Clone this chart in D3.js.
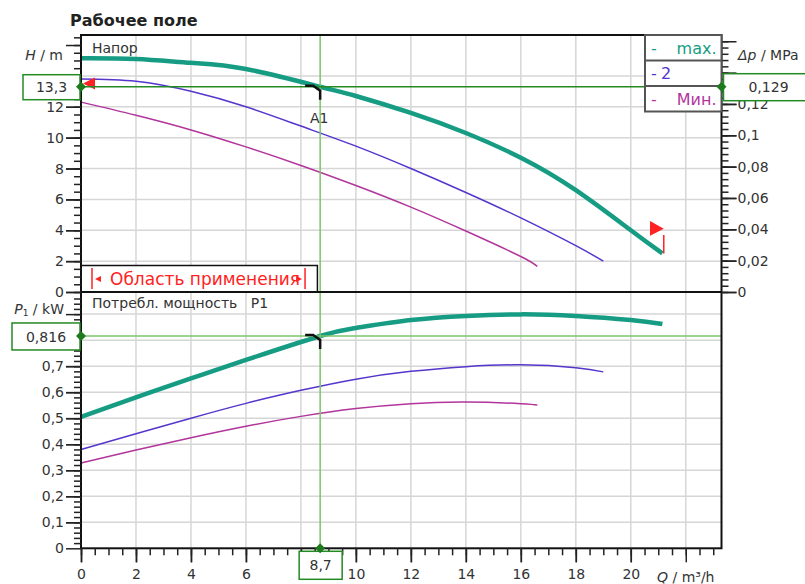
<!DOCTYPE html>
<html>
<head>
<meta charset="utf-8">
<script src="https://cdn.jsdelivr.net/npm/d3@7"></script>
<style>
  body { margin: 0; background: #fff; }
  svg text { font-family: "DejaVu Sans", Verdana, sans-serif; fill: #333; }
</style>
</head>
<body>
<div class="chart"></div>
<script>

//////////
// DATA //
//////////

// head curves, H (m) vs Q (m3/h), and power P1 (kW)
var qMax = [0, 2, 4, 6, 8.7, 10, 12, 14, 16, 18, 20, 21.15],
    hMax = [15.15, 15.1, 14.85, 14.45, 13.3, 12.7, 11.6, 10.3, 8.7, 6.6, 4.0, 2.5],
    pMax = [0.505, 0.58, 0.653, 0.724, 0.816, 0.847, 0.877, 0.893, 0.899, 0.893, 0.877, 0.862];

var qSpeed2 = [0, 2, 4, 6, 8, 10, 12, 14, 16, 18, 19],
    hSpeed2 = [13.8, 13.65, 13.0, 12.0, 10.75, 9.45, 8.0, 6.45, 4.8, 3.0, 2.0],
    pSpeed2 = [0.38, 0.44, 0.50, 0.557, 0.607, 0.65, 0.68, 0.698, 0.705, 0.694, 0.678];

var qMin = [0, 2, 4, 6, 8, 10, 12, 14, 16, 16.6],
    hMin = [12.3, 11.45, 10.5, 9.4, 8.2, 6.9, 5.5, 3.95, 2.3, 1.65],
    pMin = [0.328, 0.378, 0.425, 0.469, 0.507, 0.537, 0.556, 0.562, 0.556, 0.551];

// duty point A1
var dutyQ = 8.7, dutyH = 13.3, dutyP = 0.816, dutyDp = 0.129;

var legendNames = ['max.', '2', 'Мин.'];

var xTicks = [0, 2, 4, 6, 10, 12, 14, 16, 18, 20],
    hTicks = [0, 2, 4, 6, 8, 10, 12],
    dpTicks = [0, 0.02, 0.04, 0.06, 0.08, 0.1, 0.12],
    pTicks = [0, 0.1, 0.2, 0.3, 0.4, 0.5, 0.6, 0.7];

/////////////////////
// INTIAL SETTINGS //
/////////////////////

var W = 805, H = 584;

var colMax = '#179c84',
    col2 = '#5535cc',
    colMin = '#b2359c',
    gridCol = '#d6d6d6',
    greenDark = '#248a24',
    greenLight = '#7cc46c',
    red = '#ff2222';

var ru = d3.formatLocale({ decimal: ',', thousands: ' ', grouping: [3], currency: ['', ''] });
var fmt = ru.format('~g');

var svg = d3.select('.chart')
    .append('svg')
    .attr('width', W)
    .attr('height', H);

////////////
// SCALES //
////////////

var x = d3.scaleLinear().domain([0, 23.3]).range([81, 721.5]);
var yH = d3.scaleLinear().domain([0, 16.65]).range([292, 35]);
var yDp = d3.scaleLinear().domain([0, 0.164]).range([292, 35]);
var yP = d3.scaleLinear().domain([0, 0.985]).range([548.3, 292]);

var left = x.range()[0], right = x.range()[1];

//////////
// GRID //
//////////

var grid = svg.append('g').attr('stroke', gridCol).attr('stroke-width', 1.5);

grid.selectAll('.vgrid')
    .data(d3.range(2, 23, 2))
    .enter()
    .append('line')
    .attr('x1', function(d) { return x(d); })
    .attr('x2', function(d) { return x(d); })
    .attr('y1', yH.range()[1])
    .attr('y2', yP.range()[0]);

grid.selectAll('.hgrid')
    .data(d3.range(2, 16, 2))
    .enter()
    .append('line')
    .attr('x1', left).attr('x2', right)
    .attr('y1', function(d) { return yH(d); })
    .attr('y2', function(d) { return yH(d); });

grid.selectAll('.pgrid')
    .data(d3.range(0.1, 0.95, 0.1))
    .enter()
    .append('line')
    .attr('x1', left).attr('x2', right)
    .attr('y1', function(d) { return yP(d); })
    .attr('y2', function(d) { return yP(d); });

////////////
// CURVES //
////////////

function pairs(q, v) {
    return q.map(function(d, i) { return [d, v[i]]; });
}

var headLine = d3.line()
    .x(function(d) { return x(d[0]); })
    .y(function(d) { return yH(d[1]); })
    .curve(d3.curveNatural);

var powerLine = d3.line()
    .x(function(d) { return x(d[0]); })
    .y(function(d) { return yP(d[1]); })
    .curve(d3.curveNatural);

var series = [
    { q: qMin, h: hMin, p: pMin, color: colMin, width: 1.5 },
    { q: qSpeed2, h: hSpeed2, p: pSpeed2, color: col2, width: 1.5 },
    { q: qMax, h: hMax, p: pMax, color: colMax, width: 4.5 }
];

series.forEach(function(s) {
    svg.append('path')
        .attr('d', headLine(pairs(s.q, s.h)))
        .attr('fill', 'none')
        .attr('stroke', s.color)
        .attr('stroke-width', s.width);
    svg.append('path')
        .attr('d', powerLine(pairs(s.q, s.p)))
        .attr('fill', 'none')
        .attr('stroke', s.color)
        .attr('stroke-width', s.width);
});

//////////////////////
// APPLICATION AREA //
//////////////////////

svg.append('rect')
    .attr('x', left)
    .attr('y', 265.5)
    .attr('width', x(8.6) - left)
    .attr('height', yH(0) - 265.5)
    .attr('fill', '#fff')
    .attr('stroke', '#111')
    .attr('stroke-width', 1.5);

[x(0.4), x(8.15)].forEach(function(xx) {
    svg.append('line')
        .attr('x1', xx).attr('x2', xx)
        .attr('y1', 268).attr('y2', 289)
        .attr('stroke', red)
        .attr('stroke-width', 1.5);
});

svg.append('path')
    .attr('d', 'M' + (x(0.4) + 3) + ',279 l6,-3 v6 z')
    .attr('fill', red);
svg.append('path')
    .attr('d', 'M' + (x(8.15) - 3) + ',279 l-6,-3 v6 z')
    .attr('fill', red);

svg.append('text')
    .attr('x', 110)
    .attr('y', 279)
    .attr('dy', '0.36em')
    .style('font-size', '17px')
    .style('fill', red)
    .text('Область применения');

// red range markers
svg.append('path')
    .attr('d', 'M' + (left + 2) + ',' + yH(13.5) + ' L' + (left + 14) + ',' + (yH(13.5) - 6) + ' L' + (left + 14) + ',' + (yH(13.5) + 6) + ' Z')
    .attr('fill', red);

svg.append('path')
    .attr('d', 'M' + x(20.7) + ',' + yH(4.6) + ' L' + x(21.2) + ',' + yH(4.1) + ' L' + x(20.7) + ',' + yH(3.65) + ' Z')
    .attr('fill', red);

svg.append('line')
    .attr('x1', x(21.2)).attr('x2', x(21.2))
    .attr('y1', yH(3.7)).attr('y2', yH(2.5))
    .attr('stroke', red)
    .attr('stroke-width', 1.5);

////////////////
// DUTY POINT //
////////////////

svg.append('line')
    .attr('x1', x(dutyQ)).attr('x2', x(dutyQ))
    .attr('y1', yH.range()[1]).attr('y2', yP.range()[0])
    .attr('stroke', greenLight)
    .attr('stroke-width', 1.5);

svg.append('line')
    .attr('x1', left).attr('x2', right)
    .attr('y1', yH(dutyH)).attr('y2', yH(dutyH))
    .attr('stroke', greenDark)
    .attr('stroke-width', 1.5);

svg.append('line')
    .attr('x1', left).attr('x2', right)
    .attr('y1', yP(dutyP)).attr('y2', yP(dutyP))
    .attr('stroke', greenLight)
    .attr('stroke-width', 1.5);

// black hooks at the curve crossing
[yH(dutyH), yP(dutyP)].forEach(function(yy) {
    var xx = x(dutyQ);
    svg.append('path')
        .attr('d', 'M' + (xx - 15) + ',' + (yy - 1) + ' L' + (xx - 7) + ',' + (yy - 1) + ' L' + xx + ',' + (yy + 4) + ' L' + xx + ',' + (yy + 13))
        .attr('fill', 'none')
        .attr('stroke', '#111')
        .attr('stroke-width', 2.5);
});

svg.append('text')
    .attr('x', x(dutyQ) - 1)
    .attr('y', 118)
    .attr('dy', '0.36em')
    .attr('text-anchor', 'middle')
    .style('font-size', '14px')
    .text('A1');

/////////////
// BORDERS //
/////////////

svg.append('rect')
    .attr('x', left).attr('y', yH.range()[1])
    .attr('width', right - left).attr('height', yP.range()[0] - yH.range()[1])
    .attr('fill', 'none')
    .attr('stroke', '#111')
    .attr('stroke-width', 2);

svg.append('line')
    .attr('x1', left).attr('x2', right)
    .attr('y1', yH(0)).attr('y2', yH(0))
    .attr('stroke', '#111')
    .attr('stroke-width', 2);

//////////
// AXES //
//////////

function styleAxis(g) {
    g.select('.domain').remove();
    g.selectAll('line').attr('stroke', '#222').attr('stroke-width', 1.5);
    g.selectAll('text').style('font-size', '14px').style('fill', '#333');
}

// H (left, top)
svg.append('g')
    .attr('transform', 'translate(' + left + ',0)')
    .call(d3.axisLeft(yH).tickValues(d3.range(0, 16.6, 0.5)).tickSize(7).tickFormat(''))
    .call(styleAxis);
svg.append('g')
    .attr('transform', 'translate(' + left + ',0)')
    .call(d3.axisLeft(yH).tickValues(d3.range(0, 16.1, 2)).tickSize(15).tickFormat(''))
    .call(styleAxis);
svg.append('g')
    .attr('transform', 'translate(' + left + ',0)')
    .call(d3.axisLeft(yH).tickValues(hTicks).tickSize(15).tickPadding(2).tickFormat(fmt))
    .call(styleAxis);

// P1 (left, bottom)
svg.append('g')
    .attr('transform', 'translate(' + left + ',0)')
    .call(d3.axisLeft(yP).tickValues(d3.range(0.02, 0.98, 0.02)).tickSize(7).tickFormat(''))
    .call(styleAxis);
svg.append('g')
    .attr('transform', 'translate(' + left + ',0)')
    .call(d3.axisLeft(yP).tickValues(d3.range(0.1, 0.95, 0.1)).tickSize(15).tickFormat(''))
    .call(styleAxis);
svg.append('g')
    .attr('transform', 'translate(' + left + ',0)')
    .call(d3.axisLeft(yP).tickValues(pTicks).tickSize(15).tickPadding(2).tickFormat(fmt))
    .call(styleAxis);

// dp (right, top)
svg.append('g')
    .attr('transform', 'translate(' + right + ',0)')
    .call(d3.axisRight(yDp).tickValues(d3.range(0, 0.164, 0.004)).tickSize(7).tickFormat(''))
    .call(styleAxis);
svg.append('g')
    .attr('transform', 'translate(' + right + ',0)')
    .call(d3.axisRight(yDp).tickValues(d3.range(0, 0.163, 0.02)).tickSize(15).tickFormat(''))
    .call(styleAxis);
svg.append('g')
    .attr('transform', 'translate(' + right + ',0)')
    .call(d3.axisRight(yDp).tickValues(dpTicks).tickSize(15).tickPadding(1).tickFormat(fmt))
    .call(styleAxis);

// Q (bottom)
svg.append('g')
    .attr('transform', 'translate(0,' + yP(0) + ')')
    .call(d3.axisBottom(x).tickValues(d3.range(0, 23.1, 0.5)).tickSize(7).tickFormat(''))
    .call(styleAxis);
svg.append('g')
    .attr('transform', 'translate(0,' + yP(0) + ')')
    .call(d3.axisBottom(x).tickValues(d3.range(0, 22.1, 2)).tickSize(14).tickFormat(''))
    .call(styleAxis);
svg.append('g')
    .attr('transform', 'translate(0,' + yP(0) + ')')
    .call(d3.axisBottom(x).tickValues(xTicks).tickSize(14).tickPadding(7).tickFormat(fmt))
    .call(styleAxis);

/////////////////
// AXIS TITLES //
/////////////////

var hLabel = svg.append('text').attr('x', 63).attr('y', 55).attr('dy', '0.36em')
    .attr('text-anchor', 'end').style('font-size', '14px');
hLabel.append('tspan').style('font-style', 'italic').text('H');
hLabel.append('tspan').text(' / m');

var dpLabel = svg.append('text').attr('x', 738).attr('y', 55).attr('dy', '0.36em')
    .style('font-size', '14px');
dpLabel.append('tspan').style('font-style', 'italic').text('Δp');
dpLabel.append('tspan').text(' / MPa');

var pLabel = svg.append('text').attr('x', 64).attr('y', 309).attr('dy', '0.36em')
    .attr('text-anchor', 'end').style('font-size', '14px');
pLabel.append('tspan').style('font-style', 'italic').text('P');
pLabel.append('tspan').style('font-size', '9px').attr('dy', '2').text('1');
pLabel.append('tspan').attr('dy', '-2').text(' / kW');

var qLabel = svg.append('text').attr('x', x(22)).attr('y', 577).attr('dy', '0.36em')
    .attr('text-anchor', 'middle').style('font-size', '14px');
qLabel.append('tspan').style('font-style', 'italic').text('Q');
qLabel.append('tspan').text(' / m³/h');

svg.append('text')
    .attr('x', 70).attr('y', 20).attr('dy', '0.36em')
    .style('font-size', '16px').style('font-weight', 'bold').style('fill', '#222')
    .text('Рабочее поле');

svg.append('text')
    .attr('x', 92).attr('y', 48).attr('dy', '0.36em')
    .style('font-size', '14px')
    .text('Напор');

svg.append('text')
    .attr('x', 92).attr('y', 303).attr('dy', '0.36em')
    .style('font-size', '14px')
    .attr('xml:space', 'preserve')
    .text('Потребл. мощность   P1');

////////////
// LEGEND //
////////////

var legend = svg.append('g');
var legX = 645, legY = 35, rowH = 25.5;
var legColors = [colMax, col2, colMin];

legend.append('rect')
    .attr('x', legX).attr('y', legY)
    .attr('width', right - legX).attr('height', rowH * 3)
    .attr('fill', '#fff')
    .attr('stroke', '#555')
    .attr('stroke-width', 2);

legend.selectAll('.sep')
    .data([1, 2])
    .enter()
    .append('line')
    .attr('x1', legX).attr('x2', right)
    .attr('y1', function(d) { return legY + d * rowH; })
    .attr('y2', function(d) { return legY + d * rowH; })
    .attr('stroke', '#555')
    .attr('stroke-width', 2);

legendNames.forEach(function(name, i) {
    var cy = legY + rowH * i + rowH / 2;
    legend.append('text')
        .attr('x', legX + 6).attr('y', cy).attr('dy', '0.36em')
        .style('font-size', '16px').style('fill', legColors[i])
        .text('-');
    legend.append('text')
        .attr('x', i === 1 ? legX + 16 : right - 5).attr('y', cy).attr('dy', '0.36em')
        .attr('text-anchor', i === 1 ? 'start' : 'end')
        .style('font-size', '16px').style('fill', legColors[i])
        .text(name);
});

////////////////////
// DUTY POINT BOX //
////////////////////

function valueBox(x0, y0, w, h, label) {
    svg.append('rect')
        .attr('x', x0).attr('y', y0)
        .attr('width', w).attr('height', h)
        .attr('fill', '#fff')
        .attr('stroke', greenDark)
        .attr('stroke-width', 1.5);
    svg.append('text')
        .attr('x', x0 + w / 2).attr('y', y0 + h / 2).attr('dy', '0.36em')
        .attr('text-anchor', 'middle')
        .style('font-size', '14px')
        .text(label);
}

valueBox(23, yH(dutyH) - 12, left - 24, 25, fmt(dutyH));
valueBox(right + 2, yH(dutyH) - 13, 90, 27, fmt(dutyDp));
valueBox(12, yP(dutyP) - 13, left - 13, 27, fmt(dutyP));
valueBox(x(dutyQ) - 21, yP(0) + 3, 43, 28, fmt(dutyQ));

function diamond(cx, cy) {
    svg.append('path')
        .attr('d', 'M' + cx + ',' + (cy - 5) + ' l5,5 l-5,5 l-5,-5 z')
        .attr('fill', '#1d7a1d');
}

diamond(left, yH(dutyH));
diamond(right, yH(dutyH));
diamond(left, yP(dutyP));
diamond(x(dutyQ), yP(0));

</script>
</body>
</html>
